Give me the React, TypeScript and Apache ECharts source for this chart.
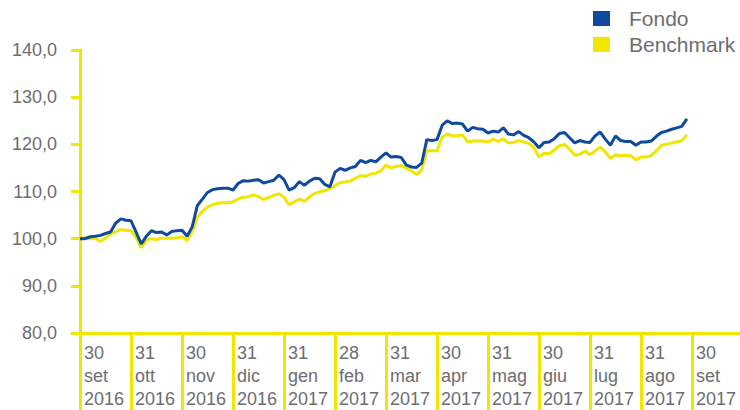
import React, { useEffect, useRef } from "react";
import * as echarts from "echarts";

// Month-end tick labels (one per month, evenly spaced)
const tickLabels: string[] = [
  "30\nset\n2016", "31\nott\n2016", "30\nnov\n2016", "31\ndic\n2016",
  "31\ngen\n2017", "28\nfeb\n2017", "31\nmar\n2017", "30\napr\n2017",
  "31\nmag\n2017", "30\ngiu\n2017", "31\nlug\n2017", "31\nago\n2017",
  "30\nset\n2017",
];

// Sample spacing in months (samples read every 0.1 month)
const STEP = 0.1;

const fondo: number[] = [
  100.0, 100.0, 100.4, 100.5, 100.7, 101.1, 101.4, 103.3, 104.2, 103.9,
  103.8, 101.4, 98.9, 100.5, 101.7, 101.3, 101.4, 100.8, 101.5, 101.7,
  101.8, 100.5, 102.5, 107.0, 108.4, 109.8, 110.4, 110.6, 110.7, 110.7,
  110.3, 111.7, 112.3, 112.2, 112.4, 112.5, 111.8, 112.1, 112.4, 113.5,
  112.5, 110.3, 110.8, 112.1, 111.3, 112.2, 112.8, 112.7, 111.5, 111.0,
  114.1, 114.9, 114.5, 115.0, 115.3, 116.6, 116.1, 116.6, 116.3, 117.3,
  118.2, 117.3, 117.4, 117.2, 115.6, 115.2, 115.1, 116.0, 121.0, 120.8,
  121.0, 124.0, 125.0, 124.4, 124.5, 124.3, 122.8, 123.6, 123.3, 123.2,
  122.4, 122.8, 122.6, 123.5, 122.2, 122.0, 122.7, 121.9, 121.4, 120.5,
  119.3, 120.4, 120.5, 121.2, 122.3, 122.5, 121.4, 120.3, 120.8, 120.5,
  120.4, 121.8, 122.6, 121.1, 119.8, 121.8, 120.8, 120.6, 120.6, 119.8,
  120.5, 120.5, 120.7, 121.7, 122.5, 122.8, 123.2, 123.5, 123.8, 125.4,
];

const benchmark: number[] = [
  100.0, 100.2, 100.0, 100.1, 99.4, 100.1, 101.0, 101.5, 101.9, 101.8,
  101.7, 100.3, 98.1, 99.7, 100.0, 99.8, 100.1, 100.1, 100.1, 100.2,
  100.4, 99.6, 101.5, 104.5, 105.8, 106.7, 107.2, 107.5, 107.6, 107.6,
  107.8, 108.4, 108.8, 108.9, 109.3, 108.9, 108.3, 108.7, 109.2, 109.5,
  108.8, 107.2, 107.8, 108.4, 107.9, 108.8, 109.6, 109.9, 110.2, 110.6,
  111.2, 111.9, 112.0, 112.2, 112.8, 113.4, 113.2, 113.7, 113.9, 114.4,
  115.6, 115.0, 115.3, 115.5, 114.9, 114.4, 113.6, 114.5, 118.6, 118.7,
  118.6, 121.5, 122.2, 121.8, 121.8, 122.0, 120.5, 120.7, 120.7, 120.7,
  120.5, 121.1, 120.6, 121.2, 120.3, 120.4, 120.8, 120.5, 120.2, 119.3,
  117.3, 118.1, 118.0, 118.8, 119.7, 120.0, 119.0, 117.7, 117.9, 118.6,
  117.8, 118.6, 119.4, 118.4, 117.0, 117.8, 117.6, 117.7, 117.6, 116.7,
  117.3, 117.3, 117.6, 118.6, 119.8, 120.0, 120.3, 120.5, 120.8, 122.0,
];

const yMin = 80;
const yMax = 140;
const yStep = 10;

const BLUE = "#0e4a9f";
const YELLOW = "#f0e600";
const GRAY = "#6d6e71";
const FONT = "'Liberation Sans', Arial, Helvetica, sans-serif";

export default function App() {
  const ref = useRef<HTMLDivElement>(null);

  useEffect(() => {
    if (!ref.current) return;
    const chart = echarts.init(ref.current, undefined, { renderer: "svg" });
    const toPairs = (arr: number[]) => arr.map((v, i) => [+(i * STEP).toFixed(2), v]);
    const monthIdx = tickLabels.map((_, i) => i);

    chart.setOption({
      animation: false,
      textStyle: { fontFamily: FONT },
      legend: {
        data: ["Fondo", "Benchmark"],
        orient: "vertical",
        left: 593,
        top: 8,
        icon: "rect",
        itemWidth: 17,
        itemHeight: 15,
        itemGap: 5,
        padding: 0,
        textStyle: { fontSize: 21, color: GRAY, fontFamily: FONT, padding: [0, 0, 0, 14], lineHeight: 16 },
      },
      grid: { left: 72, right: 0, top: 50, bottom: 77, containLabel: false },
      xAxis: {
        type: "value",
        min: -8 / 51,
        max: 660 / 51,
        splitLine: { show: false },
        axisLine: { show: true, lineStyle: { color: YELLOW, width: 3 } },
        axisTick: {
          show: true,
          customValues: monthIdx,
          length: 77,
          lineStyle: { color: YELLOW, width: 3 },
        },
        axisLabel: {
          customValues: monthIdx,
          formatter: (v: number) => tickLabels[Math.round(v)] ?? "",
          align: "left",
          padding: [0, 0, 0, 4],
          margin: 8,
          fontSize: 18,
          lineHeight: 23,
          color: GRAY,
          fontFamily: FONT,
          hideOverlap: false,
        },
      },
      yAxis: {
        type: "value",
        min: yMin,
        max: yMax,
        interval: yStep,
        splitLine: { show: false },
        axisLine: { show: true, lineStyle: { color: YELLOW, width: 3 } },
        axisTick: { show: true, length: 9, lineStyle: { color: YELLOW, width: 3 } },
        axisLabel: {
          formatter: (v: number) => v.toFixed(1).replace(".", ","),
          margin: 15,
          fontSize: 18,
          color: GRAY,
          fontFamily: FONT,
        },
      },
      series: [
        {
          name: "Fondo",
          type: "line",
          data: toPairs(fondo),
          showSymbol: false,
          symbol: "none",
          lineStyle: { color: BLUE, width: 3 },
          itemStyle: { color: BLUE },
          z: 3,
        },
        {
          name: "Benchmark",
          type: "line",
          data: toPairs(benchmark),
          showSymbol: false,
          symbol: "none",
          lineStyle: { color: YELLOW, width: 3 },
          itemStyle: { color: YELLOW },
          z: 2,
        },
      ],
    });
    return () => chart.dispose();
  }, []);

  return (
    <div
      ref={ref}
      style={{ position: "fixed", left: 0, top: 0, width: 740, height: 410, background: "#fff" }}
    />
  );
}
